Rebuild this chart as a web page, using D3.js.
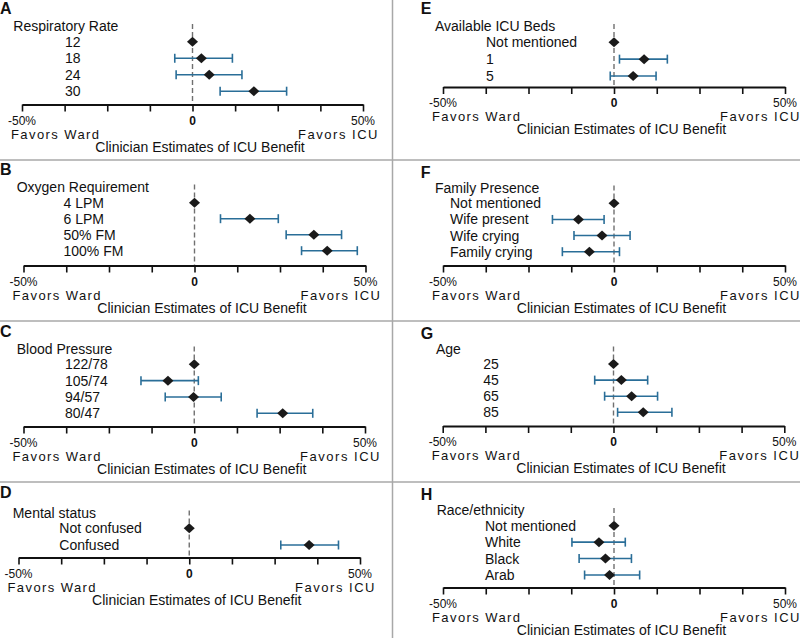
<!DOCTYPE html>
<html><head><meta charset="utf-8">
<script src="https://cdn.jsdelivr.net/npm/d3@7"></script>
<style>
body{margin:0;background:#fff;}
svg{display:block;font-family:"Liberation Sans",Arial,sans-serif;}
</style></head>
<body><svg id="c" width="800" height="638"></svg>
<script>
// ---- data ----
const panelLetters = ["A","B","C","D","E","F","G","H"];
const panelTitles = ["Respiratory Rate","Oxygen Requirement","Blood Pressure","Mental status",
                     "Available ICU Beds","Family Presence","Age","Race/ethnicity"];
const tickValues = [-50,-37.5,-25,-12.5,0,12.5,25,37.5,50];
const tickLabels = ["-50%","","","","0","","","","50%"];
const favorsLeft = "Favors Ward", favorsRight = "Favors ICU";
const axisTitle = "Clinician Estimates of ICU Benefit";

const rrLabels = ["12","18","24","30"];
const rrEst = [0, 2.6, 4.9, 18.0];
const rrLo  = [null, -5.2, -4.8, 8.1];
const rrHi  = [null, 11.7, 14.5, 27.6];

const oxLabels = ["4 LPM","6 LPM","50% FM","100% FM"];
const oxEst = [0, 16.2, 34.9, 38.8];
const oxLo  = [null, 7.6, 26.8, 31.3];
const oxHi  = [null, 24.5, 43.0, 47.6];

const bpLabels = ["122/78","105/74","94/57","80/47"];
const bpEst = [0, -7.7, -0.2, 25.9];
const bpLo  = [null, -15.6, -8.5, 18.4];
const bpHi  = [null, 1.2, 7.9, 34.7];

const msLabels = ["Not confused","Confused"];
const msEst = [0, 35.1];
const msLo  = [null, 26.8];
const msHi  = [null, 43.7];

const bedLabels = ["Not mentioned","1","5"];
const bedEst = [0, 8.8, 5.6];
const bedLo  = [null, 1.6, -1.1];
const bedHi  = [null, 15.6, 12.3];

const famLabels = ["Not mentioned","Wife present","Wife crying","Family crying"];
const famEst = [0, -10.4, -3.5, -7.2];
const famLo  = [null, -18.0, -11.7, -15.1];
const famHi  = [null, -2.9, 4.7, 1.6];

const ageLabels = ["25","45","65","85"];
const ageEst = [0, 2.3, 5.3, 8.7];
const ageLo  = [null, -5.5, -2.6, 1.2];
const ageHi  = [null, 10.0, 12.9, 17.1];

const raceLabels = ["Not mentioned","White","Black","Arab"];
const raceEst = [0, -4.4, -2.5, -1.3];
const raceLo  = [null, -12.3, -10.2, -8.6];
const raceHi  = [null, 3.3, 5.1, 7.5];

const panelData = [
  [rrLabels, rrEst, rrLo, rrHi],
  [oxLabels, oxEst, oxLo, oxHi],
  [bpLabels, bpEst, bpLo, bpHi],
  [msLabels, msEst, msLo, msHi],
  [bedLabels, bedEst, bedLo, bedHi],
  [famLabels, famEst, famLo, famHi],
  [ageLabels, ageEst, ageLo, ageHi],
  [raceLabels, raceEst, raceLo, raceHi]
];

// ---- layout (positions only) ----
const layout = [
  {x0:22,   x1:363,   letterX:0,   letterY:13.5, titleX:13.3, titleY:31,   rowX:65,   r0:41.8, r1:91.2,  axisY:104.5},
  {x0:23.5, x1:365.5, letterX:0,   letterY:175,  titleX:16.7, titleY:191.5,rowX:63.5, r0:202.7,r1:250.7, axisY:265.5},
  {x0:23.5, x1:365,   letterX:0,   letterY:337,  titleX:16.7, titleY:353.5,rowX:65,   r0:364.3,r1:413.3, axisY:426.5},
  {x0:18.5, x1:360,   letterX:0,   letterY:498,  titleX:12.7, titleY:517.5,rowX:59.3, r0:528.3,r1:545,   axisY:557.5},
  {x0:443,  x1:785,   letterX:420.7,letterY:13.5,titleX:435,  titleY:31,   rowX:486,  r0:42.3, r1:76,    axisY:87},
  {x0:443,  x1:785,   letterX:420.7,letterY:178, titleX:435,  titleY:192.5,rowX:450,  r0:203.3,r1:251.7, axisY:265.5},
  {x0:442.7,x1:784.3, letterX:420.7,letterY:338.5,titleX:436, titleY:353.5,rowX:483.3,r0:364,  r1:412.3, axisY:426},
  {x0:443,  x1:785,   letterX:420.7,letterY:500, titleX:436.7,titleY:515,  rowX:485,  r0:525.7,r1:575,   axisY:587.5}
];

const ciColor = "#2a6e98";
const svg = d3.select("#c");

// dividers
const grid = svg.append("g").attr("stroke","#a8a8a8").attr("stroke-width",1.5);
grid.append("line").attr("x1",392.5).attr("x2",392.5).attr("y1",0).attr("y2",638);
[160,321,482].forEach(y=>grid.append("line").attr("x1",0).attr("x2",800).attr("y1",y).attr("y2",y));

panelData.forEach((pd,i)=>{
  const [labels, est, lo, hi] = pd;
  const L = layout[i];
  const g = svg.append("g");
  const x = d3.scaleLinear().domain([-50,50]).range([L.x0,L.x1]);
  const y = d3.scalePoint().domain(labels).range([L.r0,L.r1]);

  g.append("text").attr("x",L.letterX).attr("y",L.letterY)
    .attr("font-size",16).attr("font-weight","bold").attr("fill","#111").text(panelLetters[i]);
  g.append("text").attr("x",L.titleX).attr("y",L.titleY)
    .attr("font-size",14).attr("fill","#111").text(panelTitles[i]);

  // zero dashed line
  g.append("line").attr("x1",x(0)).attr("x2",x(0))
    .attr("y1",L.titleY-7).attr("y2",L.axisY)
    .attr("stroke","#707070").attr("stroke-width",1.4).attr("stroke-dasharray","5,3");

  // row labels
  g.selectAll(".rl").data(labels).join("text")
    .attr("x",L.rowX).attr("y",d=>y(d)+5)
    .attr("font-size",14).attr("fill","#111").text(d=>d);

  // CIs
  const rows = labels.map((lab,k)=>({lab, est:est[k], lo:lo[k], hi:hi[k]}));
  const ci = rows.filter(r=>r.lo!==null);
  g.selectAll(".ci").data(ci).join("line")
    .attr("x1",d=>x(d.lo)).attr("x2",d=>x(d.hi)).attr("y1",d=>y(d.lab)).attr("y2",d=>y(d.lab))
    .attr("stroke",ciColor).attr("stroke-width",1.6);
  ["lo","hi"].forEach(k=>{
    g.selectAll(".cap"+k).data(ci).join("line")
      .attr("x1",d=>x(d[k])).attr("x2",d=>x(d[k]))
      .attr("y1",d=>y(d.lab)-4.5).attr("y2",d=>y(d.lab)+4.5)
      .attr("stroke",ciColor).attr("stroke-width",1.6);
  });

  // diamonds
  g.selectAll(".dm").data(rows).join("path")
    .attr("d",d=>{const cx=x(d.est), cy=y(d.lab);
      return `M${cx-5.5},${cy}L${cx},${cy-5}L${cx+5.5},${cy}L${cx},${cy+5}Z`;})
    .attr("fill","#1a1a1a");

  // axis
  const ax = d3.axisBottom(x).tickValues(tickValues).tickSize(7).tickSizeOuter(0).tickFormat("");
  const ag = g.append("g").attr("transform",`translate(0,${L.axisY})`).call(ax);
  ag.select(".domain").attr("stroke","#111").attr("stroke-width",1.8);
  ag.selectAll(".tick line").attr("stroke","#111").attr("stroke-width",1.6);

  g.selectAll(".tl").data(tickValues.filter((v,k)=>tickLabels[k]!=="")).join("text")
    .attr("x",d=>x(d)).attr("y",L.axisY+20).attr("text-anchor","middle")
    .attr("font-size",12).attr("fill","#111")
    .attr("font-weight",d=>d===0?"bold":"normal")
    .text(d=>tickLabels[tickValues.indexOf(d)]);

  g.append("text").attr("x",L.x0-11).attr("y",L.axisY+34)
    .attr("font-size",13).attr("textLength",88).attr("lengthAdjust","spacing")
    .attr("fill","#111").text(favorsLeft);
  g.append("text").attr("x",L.x1+14.5-79.5).attr("y",L.axisY+34)
    .attr("font-size",13).attr("textLength",79.5).attr("lengthAdjust","spacing")
    .attr("fill","#111").text(favorsRight);
  g.append("text").attr("x",x(0)+7.5).attr("y",L.axisY+47).attr("text-anchor","middle")
    .attr("font-size",14).attr("fill","#111").text(axisTitle);
});
</script></body></html>
